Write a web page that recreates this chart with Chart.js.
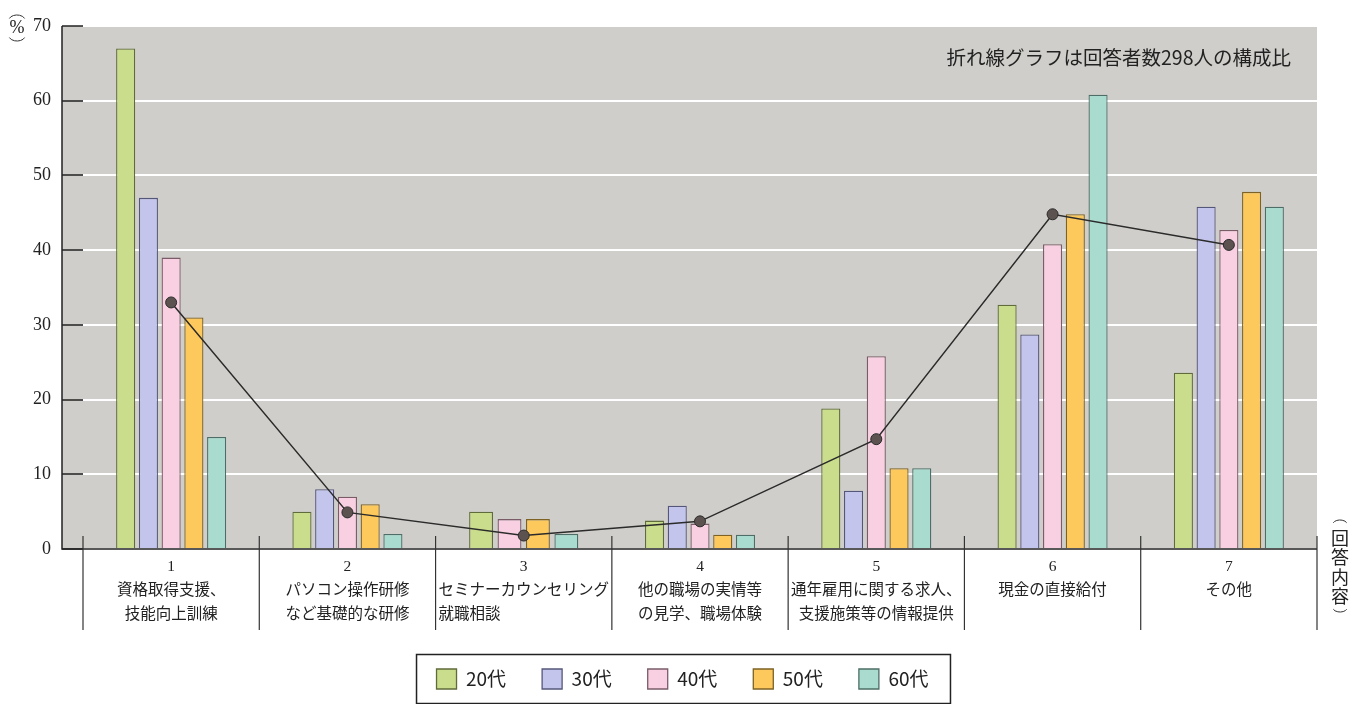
<!DOCTYPE html>
<html lang="ja">
<head>
<meta charset="UTF-8">
<title>回答内容別の構成比</title>
<script src="https://cdn.jsdelivr.net/npm/chart.js"></script>
<style>
  html, body { margin: 0; padding: 0; background: #fff; }
  #wrap { width: 1357px; height: 704px; }
</style>
</head>
<body>
<div id="wrap"><canvas id="chart"></canvas></div>
<script>
// 回答内容(カテゴリ)
const categories = [
  ['1', '資格取得支援、', '技能向上訓練'],
  ['2', 'パソコン操作研修', 'など基礎的な研修'],
  ['3', 'セミナーカウンセリング', '就職相談　　　　　　　'],
  ['4', '他の職場の実情等', 'の見学、職場体験'],
  ['5', '通年雇用に関する求人、', '支援施策等の情報提供'],
  ['6', '現金の直接給付'],
  ['7', 'その他']
];
// 年代別の割合(%)
const ages = ['20代', '30代', '40代', '50代', '60代'];
const v20 = [67, 5, 5, 3.8, 18.8, 32.7, 23.6];
const v30 = [47, 8, null, 5.8, 7.8, 28.7, 45.8];
const v40 = [39, 7, 4, 3.4, 25.8, 40.8, 42.7];
const v50 = [31, 6, 4, 1.9, 10.8, 44.8, 47.8];
const v60 = [15, 2, 2, 1.9, 10.8, 60.8, 45.8];
// 折れ線: 回答者数298人の構成比
const total = [33, 4.9, 1.8, 3.7, 14.7, 44.8, 40.7];
const yTicks = [0, 10, 20, 30, 40, 50, 60, 70];

const fills = ['#cadd8c', '#c3c5ec', '#f8d0e1', '#fdc85c', '#a9dccf'];
const edges = ['#5f6b3a', '#55577a', '#7a5c68', '#7d6224', '#4d6d66'];
const series = [v20, v30, v40, v50, v60];

const SERIF = "'Liberation Serif', 'DejaVu Serif', 'Noto Sans CJK JP', serif";
const GOTHIC = "'Noto Sans CJK JP', sans-serif";
const AXIS_OFFSET = 21;   // 縦軸とカテゴリ開始の間隔
const LEGEND_SHIFT = 24;  // 凡例を右へずらす量

const decor = {
  id: 'decor',
  afterLayout(chart) {
    chart.legend.left += LEGEND_SHIFT;
    chart.legend.right += LEGEND_SHIFT;
  },
  beforeDraw(chart) {
    const {ctx, chartArea: a} = chart;
    ctx.save();
    ctx.fillStyle = '#cfceca';
    ctx.fillRect(a.left - AXIS_OFFSET, a.top, a.right - a.left + AXIS_OFFSET, a.bottom - a.top);
    ctx.restore();
  },
  afterDraw(chart) {
    const {ctx, chartArea: a, scales} = chart;
    const x = scales.x;
    const left = a.left - AXIS_OFFSET;
    ctx.save();
    ctx.strokeStyle = '#222';
    ctx.lineWidth = 1.5;
    // 縦軸と横軸
    ctx.beginPath();
    ctx.moveTo(left, a.top);
    ctx.lineTo(left, a.bottom);
    ctx.lineTo(a.right, a.bottom);
    ctx.stroke();
    // カテゴリ区切り線
    ctx.lineWidth = 1.2;
    ctx.strokeStyle = '#333';
    const w = (x.right - x.left) / categories.length;
    for (let i = 0; i <= categories.length; i++) {
      const px = x.left + i * w;
      ctx.beginPath();
      ctx.moveTo(px, a.bottom - 13);
      ctx.lineTo(px, a.bottom + 81);
      ctx.stroke();
    }
    // (%) 単位
    ctx.fillStyle = '#222';
    ctx.font = '18px ' + SERIF;
    ctx.textAlign = 'center';
    ctx.textBaseline = 'middle';
    ctx.fillText('%', 17, 28);
    ctx.lineWidth = 1;
    ctx.beginPath();
    ctx.ellipse(17, 20, 8, 5, 0, Math.PI * 1.1, Math.PI * 1.9);
    ctx.stroke();
    ctx.beginPath();
    ctx.ellipse(17, 36, 8, 5, 0, Math.PI * 0.1, Math.PI * 0.9);
    ctx.stroke();
    // 注記
    ctx.font = '19.5px ' + GOTHIC;
    ctx.textAlign = 'right';
    ctx.fillText('折れ線グラフは回答者数298人の構成比', 1291, 58);
    // (回答内容) 縦書き
    ctx.font = '18px ' + GOTHIC;
    ctx.textAlign = 'center';
    const vx = 1340;
    ctx.beginPath();
    ctx.ellipse(vx, 524, 7, 4, 0, Math.PI * 1.1, Math.PI * 1.9);
    ctx.stroke();
    ['回', '答', '内', '容'].forEach((c, i) => ctx.fillText(c, vx, 538 + i * 19.5));
    ctx.beginPath();
    ctx.ellipse(vx, 608, 7, 4, 0, Math.PI * 0.1, Math.PI * 0.9);
    ctx.stroke();
    // 凡例の枠
    const boxes = chart.legend.legendHitBoxes;
    if (boxes && boxes.length) {
      const first = boxes[0], last = boxes[boxes.length - 1];
      ctx.lineWidth = 1.5;
      ctx.strokeStyle = '#222';
      ctx.strokeRect(first.left - 20, 654.5, last.left + last.width - first.left + 42, 49);
    }
    ctx.restore();
  }
};

const datasets = series.map((d, i) => ({
  type: 'bar',
  label: ages[i],
  data: d,
  backgroundColor: fills[i],
  borderColor: edges[i],
  borderWidth: 1.3,
  skipNull: true,
  categoryPercentage: 0.645,
  barPercentage: 0.84,
  order: 1
}));
datasets.push({
  type: 'line',
  label: '構成比',
  data: total,
  borderColor: '#2b2b2b',
  borderWidth: 1.5,
  pointRadius: 5.5,
  pointBackgroundColor: '#5c5350',
  pointBorderColor: '#2b2b2b',
  pointBorderWidth: 1,
  tension: 0,
  order: 0
});

new Chart(document.getElementById('chart'), {
  data: { labels: categories, datasets: datasets },
  options: {
    responsive: true,
    maintainAspectRatio: false,
    animation: false,
    layout: { padding: { top: 26, right: 40, left: 0, bottom: 5 } },
    plugins: {
      legend: {
        position: 'bottom',
        labels: {
          filter: item => item.datasetIndex < 5,
          boxWidth: 20,
          boxHeight: 20,
          padding: 36,
          color: '#222',
          font: { family: GOTHIC, size: 19 }
        }
      },
      tooltip: { enabled: false }
    },
    scales: {
      x: {
        offset: true,
        grid: { display: false, drawTicks: false },
        border: { display: false },
        ticks: {
          autoSkip: false,
          maxRotation: 0,
          minRotation: 0,
          padding: 6,
          color: '#222',
          font: { family: SERIF, size: 15.5, lineHeight: 1.55 }
        },
        afterFit: s => { s.height = 84; }
      },
      y: {
        min: 0,
        max: 70,
        afterBuildTicks: s => { s.ticks = yTicks.map(v => ({ value: v })); },
        grid: {
          color: '#ffffff',
          lineWidth: 2,
          drawTicks: true,
          tickLength: AXIS_OFFSET,
          tickColor: '#222',
          tickWidth: 1.5
        },
        border: { display: false },
        ticks: {
          padding: 11,
          color: '#222',
          font: { family: SERIF, size: 18 }
        },
        afterFit: s => { s.width = 83; }
      }
    }
  },
  plugins: [decor]
});
</script>
</body>
</html>
